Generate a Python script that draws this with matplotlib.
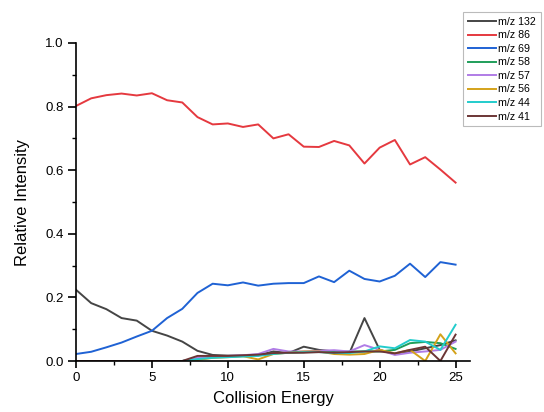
import matplotlib
matplotlib.use("Agg")
import matplotlib.pyplot as plt
from matplotlib.ticker import MultipleLocator, FormatStrFormatter

plt.rcParams['font.family'] = ['Liberation Sans', 'DejaVu Sans']

energy = list(range(26))

mz132 = [0.224, 0.182, 0.163, 0.135, 0.127, 0.095, 0.080, 0.061, 0.032, 0.019,
         0.017, 0.017, 0.018, 0.030, 0.025, 0.045, 0.035, 0.030, 0.024, 0.135,
         0.035, 0.022, 0.030, 0.040, 0.050, 0.065]
mz86 = [0.802, 0.826, 0.836, 0.841, 0.835, 0.842, 0.820, 0.813, 0.767, 0.744,
        0.747, 0.736, 0.744, 0.700, 0.713, 0.674, 0.673, 0.692, 0.678, 0.621,
        0.671, 0.695, 0.618, 0.641, 0.602, 0.561]
mz69 = [0.022, 0.029, 0.043, 0.058, 0.077, 0.095, 0.135, 0.164, 0.214, 0.243,
        0.238, 0.247, 0.237, 0.243, 0.245, 0.245, 0.266, 0.248, 0.284, 0.258,
        0.250, 0.268, 0.306, 0.264, 0.311, 0.303]
mz58 = [0, 0, 0, 0, 0, 0, 0, 0, 0.008, 0.012,
        0.014, 0.016, 0.018, 0.024, 0.026, 0.028, 0.030, 0.028, 0.030, 0.030,
        0.030, 0.035, 0.056, 0.060, 0.056, 0.038]
mz57 = [0, 0, 0, 0, 0, 0, 0, 0, 0.010, 0.014,
        0.016, 0.018, 0.022, 0.038, 0.030, 0.030, 0.032, 0.034, 0.030, 0.050,
        0.035, 0.019, 0.026, 0.030, 0.035, 0.061]
mz56 = [0, 0, 0, 0, 0, 0, 0, 0, 0.003, 0.010,
        0.012, 0.015, 0.005, 0.022, 0.026, 0.030, 0.030, 0.022, 0.020, 0.022,
        0.035, 0.024, 0.035, 0.000, 0.084, 0.024]
mz44 = [0, 0, 0, 0, 0, 0, 0, 0, 0.006, 0.010,
        0.012, 0.014, 0.016, 0.022, 0.026, 0.028, 0.028, 0.025, 0.025, 0.030,
        0.046, 0.040, 0.066, 0.061, 0.035, 0.114]
mz41 = [0, 0, 0, 0, 0, 0, 0, 0, 0.016, 0.016,
        0.016, 0.018, 0.020, 0.025, 0.026, 0.026, 0.028, 0.026, 0.028, 0.030,
        0.030, 0.024, 0.035, 0.045, 0.000, 0.083]

labels = ['m/z 132', 'm/z 86', 'm/z 69', 'm/z 58', 'm/z 57', 'm/z 56', 'm/z 44', 'm/z 41']
series = [mz132, mz86, mz69, mz58, mz57, mz56, mz44, mz41]
colors = ['#454545', '#e5393f', '#1f62d4', '#1f9e5a', '#b07ce6', '#d4a21a', '#22cccc', '#6b3535']

fig = plt.figure(figsize=(5.44, 4.12), dpi=100)
ax = fig.add_axes([76/544, 51/412, 394/544, 318/412])

for ys, lab, c in zip(series, labels, colors):
    ax.plot(energy, ys, color=c, lw=1.4, label=lab)

ax.set_xlim(0, 25.95)
ax.set_ylim(0, 1.0)
ax.xaxis.set_major_locator(MultipleLocator(5))
ax.xaxis.set_minor_locator(MultipleLocator(2.5))
ax.yaxis.set_major_locator(MultipleLocator(0.2))
ax.yaxis.set_minor_locator(MultipleLocator(0.1))
ax.yaxis.set_major_formatter(FormatStrFormatter('%.1f'))
for s in ['top', 'right']:
    ax.spines[s].set_visible(False)
for s in ['left', 'bottom']:
    ax.spines[s].set_linewidth(1.2)
ax.tick_params(which='major', direction='out', length=5, width=1.2, labelsize=9.5, pad=3)
ax.tick_params(which='minor', direction='out', length=3, width=1.0)
ax.tick_params(axis='y', which='major', length=6)
ax.set_xlabel('Collision Energy', fontsize=12)
ax.set_ylabel('Relative Intensity', fontsize=12)
ax.xaxis.set_label_coords(0.5, -0.095)
ax.yaxis.set_label_coords(-0.118, 0.5)

leg = fig.legend(loc='upper right', bbox_to_anchor=(541/544, 1 - 12/412), fontsize=7.7,
                 frameon=True, fancybox=False, handlelength=2.6, handletextpad=0.25,
                 labelspacing=0.33, borderpad=0.45, borderaxespad=0)
leg.get_frame().set_edgecolor('#aaaaaa')
leg.get_frame().set_linewidth(0.8)

fig.savefig('out.png', dpi=100)
